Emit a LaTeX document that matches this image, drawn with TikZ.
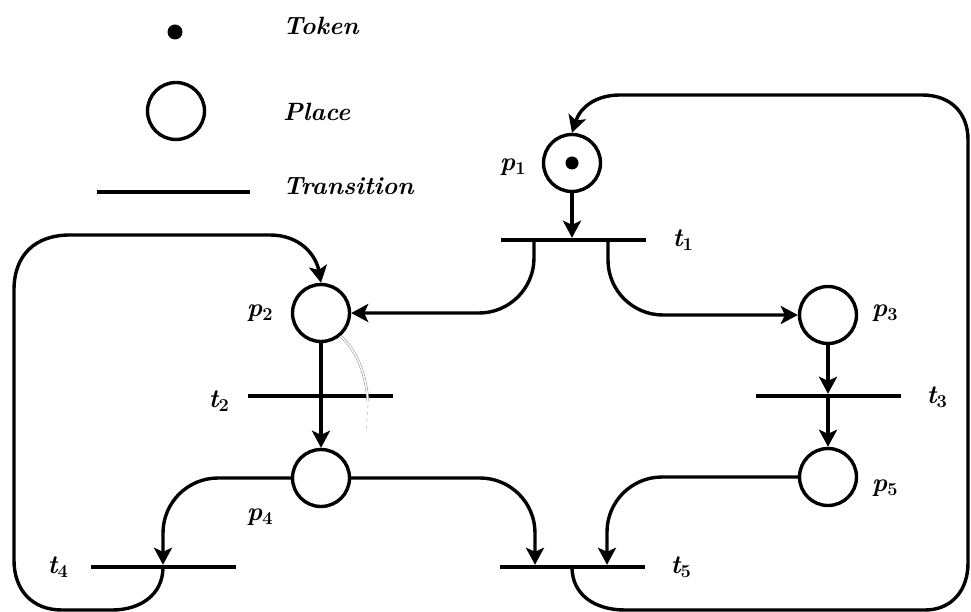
\documentclass[tikz,border=0pt]{standalone}
\usetikzlibrary{arrows.meta}
\begin{document}
\begin{tikzpicture}[x=1pt,y=-1pt,
  place/.style={circle,draw,line width=3.4pt,minimum size=57pt,inner sep=0pt},
  bar/.style={rectangle,fill,minimum width=145pt,minimum height=4pt,inner sep=0pt},
  arc/.style={line width=3.4pt,-{Stealth[length=17pt,width=18pt,inset=4pt]}},
  wire/.style={line width=3.4pt},
  token/.style={circle,fill,inner sep=0pt,minimum size=#1},
  lbl/.style={font=\fontsize{26}{30}\selectfont\bfseries\itshape,inner sep=0pt},
  legend/.style={font=\fontsize{25}{30}\selectfont\bfseries\itshape,inner sep=0pt,anchor=base west}
]
\useasboundingbox[fill=white] (0,0) rectangle (971,612);

% ---- legend ----
\node[token=15pt] (ltok) at (175,32) {};
\node[legend] (ltoktxt) at (283,35) {Token};
\node[place] (lplace) at (176,111) {};
\node[legend] (lplacetxt) at (283,121) {Place};
\node[bar,minimum width=153pt] (lbar) at (173.5,192) {};
\node[legend] (lbartxt) at (283,195) {Transition};

% ---- places ----
\node[place] (p1) at (572,163) {};
\node[token=13pt] (tok1) at (p1) {};
\node[place] (p2) at (321,313) {};
\node[place] (p3) at (828,315) {};
\node[place] (p4) at (321,478) {};
\node[place] (p5) at (828,477) {};

% ---- transitions ----
\node[bar] (t1) at (573,240) {};
\node[bar] (t2) at (320,396) {};
\node[bar] (t3) at (828,396) {};
\node[bar] (t4) at (163,567) {};
\node[bar] (t5) at (572,567) {};

% ---- labels ----
\node[lbl] (lp1) at (513,167) {p\textsubscript{\upshape 1}};
\node[lbl] (lp2) at (260,313) {p\textsubscript{\upshape 2}};
\node[lbl] (lp3) at (885,313) {p\textsubscript{\upshape 3}};
\node[lbl] (lp4) at (260,517) {p\textsubscript{\upshape 4}};
\node[lbl] (lp5) at (885,488) {p\textsubscript{\upshape 5}};
\node[lbl] (lt1) at (683,240) {t\textsubscript{\upshape 1}};
\node[lbl] (lt2) at (219,401) {t\textsubscript{\upshape 2}};
\node[lbl] (lt3) at (937,397) {t\textsubscript{\upshape 3}};
\node[lbl] (lt4) at (58,567) {t\textsubscript{\upshape 4}};
\node[lbl] (lt5) at (681,567) {t\textsubscript{\upshape 5}};

% ---- arcs ----
\draw[arc] (p1.south) -- (p1.south |- t1.north);
\draw[arc,rounded corners=55pt] ([xshift=-39pt]t1.center) |- (p2.east);
\draw[arc,rounded corners=55pt] ([xshift=35pt]t1.center) |- (p3.west);
\draw[wire] (p2.south) -- (p2.south |- t2.center);
\draw[arc] (p2.south |- t2.center) -- (p4.north);
\draw[arc] (p3.south) -- (p3.south |- t3.north);
\draw[arc] (p3.south |- t3.center) -- (p5.north);
\draw[arc,rounded corners=55pt] (p4.west) -| (t4.north);
\draw[arc,rounded corners=55pt] (p4.east) -| ([xshift=-37pt]t5.north);
\draw[arc,rounded corners=55pt] (p5.west) -| ([xshift=35pt]t5.north);

% t4 back to p2 round the left side
\draw[arc] (t4.center) .. controls (163,595) and (140,610) .. (112,610)
  -- (62,610) .. controls (32,610) and (14,590) .. (14,560)
  -- (14,290) .. controls (14,255) and (35,235) .. (70,235)
  -- (270,235) .. controls (300,235) and (316,255) .. (p2.north);

% t5 back to p1 round the right side
\draw[arc] (t5.center) .. controls (572,595) and (595,610) .. (625,610)
  -- (925,610) .. controls (952,610) and (968,590) .. (968,563)
  -- (968,140) .. controls (968,112) and (950,95) .. (922,95)
  -- (620,95) .. controls (595,95) and (580,108) .. (p1.north);

% faint double stroke beside p2
\draw[black!45,line width=0.5pt,double=white,double distance=1.5pt]
  (p2.-50) .. controls (358,352) and (366,375) .. (368,402);
\draw[black!30,line width=0.5pt,dash pattern=on 3pt off 4pt] (368,405) -- (366,432);
\end{tikzpicture}
\end{document}
